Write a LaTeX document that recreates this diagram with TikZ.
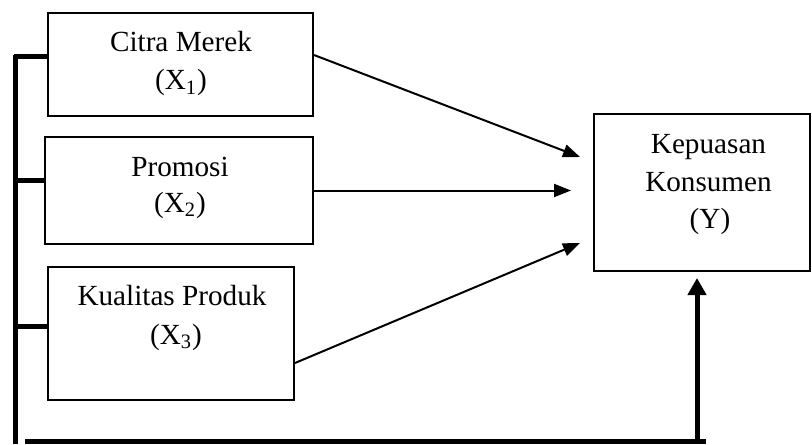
\documentclass[tikz,border=0pt]{standalone}
\usepackage{fontspec}
\setmainfont{Liberation Serif}
\usetikzlibrary{arrows.meta}
\begin{document}
\begin{tikzpicture}[x=0.5pt,y=-0.5pt,
  box/.style={draw,line width=1pt,inner sep=0pt},
  lbl/.style={font=\fontsize{14.6}{17.5}\selectfont,anchor=base,inner sep=0pt},
  heavy/.style={line width=2.5pt},
  arr/.style={line width=1pt,-{Triangle[length=8.5pt,width=6.5pt]}},
  bigarr/.style={line width=2.5pt,-{Triangle[length=8.5pt,width=9pt]}}]
\useasboundingbox (0,0) rectangle (812,444);
% boxes
\node[box,minimum width=132.5pt,minimum height=51.5pt] (b1) at (180.5,64.5) {};
\node[box,minimum width=134pt,minimum height=53.5pt] (b2) at (179,190.5) {};
\node[box,minimum width=123pt,minimum height=66.5pt] (b3) at (171,333.5) {};
\node[box,minimum width=108pt,minimum height=78.5pt] (bY) at (702,192.5) {};
% texts
\node[lbl] (t1a) at (181,52) {Citra Merek};
\node[lbl] (t1b) at (181,90) {(X\textsubscript{1})};
\node[lbl] (t2a) at (180,176) {Promosi};
\node[lbl] (t2b) at (180,212) {(X\textsubscript{2})};
\node[lbl] (t3a) at (172,305) {Kualitas Produk};
\node[lbl] (t3b) at (176,344) {(X\textsubscript{3})};
\node[lbl] (tYa) at (708.5,153) {Kepuasan};
\node[lbl] (tYb) at (708.5,191) {Konsumen};
\node[lbl] (tYc) at (710,228) {(Y)};
% arrow ends
\coordinate (e1) at (580,157);
\coordinate (e2) at (571,190.5);
\coordinate (e3) at (580,243);
\draw[arr] ([yshift=4.75pt]b1.east) -- (e1);
\draw[arr] (b2.east) -- (e2);
\draw[arr] ([yshift=-14.75pt]b3.east) -- (e3);
% bracket
\coordinate (vtop) at (15.5,55);
\coordinate (vbot) at (15.5,444);
\draw[heavy] (vtop) -- (vbot);
\draw[heavy] (14,57) -- ([yshift=3.75pt]b1.west);
\draw[heavy] (14,180) -- ([yshift=5.25pt]b2.west);
\draw[heavy] (14,326) -- ([yshift=3.75pt]b3.west);
\coordinate (hl) at (25,441);
\coordinate (hr) at (706,441);
\coordinate (hu) at (697,441);
\draw[heavy] (hl) -- (hr);
\draw[bigarr] (hu) -- ([xshift=-2.5pt,yshift=-3pt]bY.south);
\end{tikzpicture}
\end{document}
